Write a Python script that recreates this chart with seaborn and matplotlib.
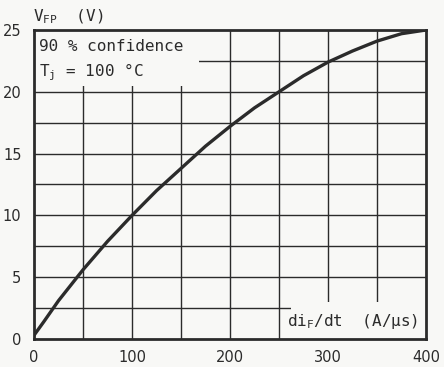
import numpy as np
import pandas as pd
import matplotlib
matplotlib.use("Agg")
import matplotlib.pyplot as plt
import seaborn as sns

# values
di_dt = [0, 10, 25, 50, 75, 100, 125, 150, 175, 200, 225, 250, 275, 300, 325, 350, 375, 400]
v_fp = [0.3, 1.4, 3.1, 5.6, 7.9, 10.0, 12.0, 13.8, 15.6, 17.2, 18.7, 20.0, 21.3, 22.4, 23.3, 24.1, 24.7, 25.0]

x_ticks = [0, 100, 200, 300, 400]
y_ticks = [0, 5, 10, 15, 20, 25]

df = pd.DataFrame({"di": di_dt, "v": v_fp})

sns.set_style("white")
plt.rcParams["font.family"] = ["DejaVu Sans"]

ink = "#2b2b2b"
bg = "#f8f8f6"

fig = plt.figure(figsize=(4.44, 3.67), dpi=100, facecolor=bg)
ax = fig.add_axes([0.0766, 0.0763, 0.8829, 0.8420])
ax.set_facecolor(bg)

# grid
for gx in np.arange(50, 400, 50):
    ax.axvline(gx, color=ink, lw=1.0, zorder=1)
for gy in np.arange(2.5, 25, 2.5):
    ax.axhline(gy, color=ink, lw=1.0, zorder=1)

# blank patches behind the annotations
ax.add_patch(plt.Rectangle((0, 20.5), 168, 4.5, facecolor=bg, edgecolor="none", zorder=2))
ax.add_patch(plt.Rectangle((262, 0), 138, 3.0, facecolor=bg, edgecolor="none", zorder=2))

sns.lineplot(data=df, x="di", y="v", ax=ax, color=ink, lw=2.4, zorder=3)

ax.set_xlim(0, 400)
ax.set_ylim(0, 25)
ax.set_xticks(x_ticks)
ax.set_yticks(y_ticks)
ax.tick_params(length=0, labelsize=10.5, colors=ink)
ax.tick_params(axis="x", pad=8)
ax.tick_params(axis="y", pad=9)
ax.set_xlabel("")
ax.set_ylabel("")
for s in ax.spines.values():
    s.set_visible(True)
    s.set_color(ink)
    s.set_linewidth(2.0)
    s.set_zorder(4)

mono = "DejaVu Sans Mono"
fs = 11.5
ax.text(5, 23.7, "90 % confidence", family=mono, fontsize=fs, color=ink, va="center", zorder=5)
ax.text(5, 21.6, r"T$_\mathregular{j}$ = 100 °C", family=mono, fontsize=fs, color=ink, va="center", zorder=5)
ax.text(392, 1.4, r"di$_\mathregular{F}$/dt  (A/μs)", family=mono, fontsize=fs, color=ink,
        ha="right", va="center", zorder=5)
fig.text(0.075, 0.955, r"V$_\mathregular{FP}$  (V)", family=mono, fontsize=fs, color=ink, va="center")

fig.savefig("out.png", dpi=100, facecolor=bg)
